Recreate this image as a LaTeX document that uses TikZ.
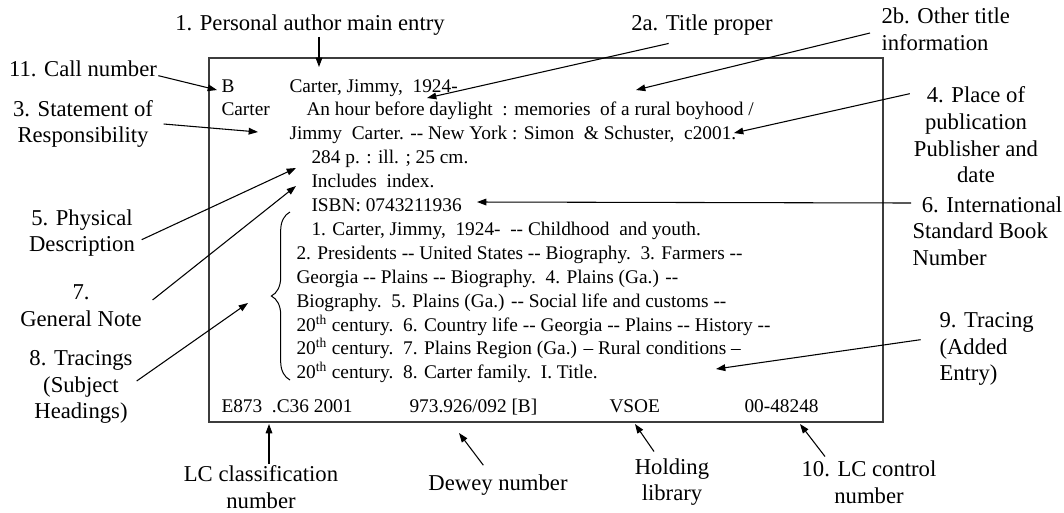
\documentclass[tikz,border=0pt]{standalone}
\usepackage{fontspec}
\setmainfont{Liberation Serif}
\usetikzlibrary{arrows.meta,decorations.pathreplacing}

\newcommand{\dhy}{-\kern0pt-}

\tikzset{every picture/.style={line width=0.75pt}}
\tikzset{
  cardtxt/.style={anchor=base west, inner sep=0.75pt, font=\fontsize{14.5}{17}\selectfont},
  lbl/.style={align=center, inner sep=0.75pt, font=\fontsize{17}{20}\selectfont},
  lblleft/.style={lbl, align=left, anchor=west},
  pointer/.style={-{Triangle[length=7pt,width=5pt]}, line width=0.8pt},
}

\begin{document}
\begin{tikzpicture}[x=0.75pt,y=0.75pt,yscale=-1,xscale=1]
\useasboundingbox (0,0) rectangle (1064,512);

%Shape: Rectangle (the card)
\draw  [color={rgb, 255:red, 60; green, 60; blue, 60 }, line width=1pt] (209,58) -- (883,58) -- (883,422) -- (209,422) -- cycle ;
%Shape: Brace
\draw  [decorate, decoration={brace, amplitude=14pt}] (290,380) -- (290,212) ;

% Text Node
\draw (220,92) node (cB) [cardtxt] {B};
% Text Node
\draw (288,92) node (cMain) [cardtxt] {Carter, Jimmy,\ \ 1924-};
% Text Node
\draw (220,115.9) node (cCutter) [cardtxt] {Carter};
% Text Node
\draw (305,115.9) node (cTitle) [cardtxt] {An hour before daylight\ \ : memories\ \ of a rural boyhood /};
% Text Node
\draw (288,139.8) node (cResp) [cardtxt] {Jimmy\ \ Carter. \dhy\ New York : Simon\ \ \& Schuster,\ \ c2001.};
% Text Node
\draw (310,163.7) node (cPhys) [cardtxt] {284 p. : ill. ; 25 cm.};
% Text Node
\draw (310,187.6) node (cNote) [cardtxt] {Includes\ \ index.};
% Text Node
\draw (310,211.5) node (cIsbn) [cardtxt] {ISBN: 0743211936};
% Text Node
\draw (310,235.4) node (cSub1) [cardtxt] {1. Carter, Jimmy,\ \ 1924-\ \ \dhy\ Childhood\ \ and youth.};
% Text Node
\draw (295,259.3) node (cSub2) [cardtxt] {2. Presidents \dhy\ United States \dhy\ Biography.\ \ 3. Farmers \dhy};
% Text Node
\draw (295,283.2) node (cSub3) [cardtxt] {Georgia \dhy\ Plains \dhy\ Biography.\ \ 4. Plains (Ga.) \dhy};
% Text Node
\draw (295,307.1) node (cSub4) [cardtxt] {Biography.\ \ 5. Plains (Ga.) \dhy\ Social life and customs \dhy};
% Text Node
\draw (295,331) node (cSub5) [cardtxt] {20\textsuperscript{th} century.\ \ 6. Country life \dhy\ Georgia \dhy\ Plains \dhy\ History \dhy};
% Text Node
\draw (295,354.9) node (cSub6) [cardtxt] {20\textsuperscript{th} century.\ \ 7. Plains Region (Ga.) -- Rural conditions --};
% Text Node
\draw (295,378.8) node (cSub7) [cardtxt] {20\textsuperscript{th} century.\ \ 8. Carter family.\ \ I. Title.};
% Text Node
\draw (220,412) node (cLcc) [cardtxt] {E873\ \ .C36 2001};
% Text Node
\draw (408,412) node (cDewey) [cardtxt] {973.926/092 [B]};
% Text Node
\draw (608,412) node (cHold) [cardtxt] {VSOE};
% Text Node
\draw (743,412) node (cCtrl) [cardtxt] {00-48248};

% Text Node
\draw (310,25) node (author) [lbl] {1. Personal author main entry};
% Text Node
\draw (83,69) node (callno) [lbl] {11. Call number};
% Text Node
\draw (83,124) node (stmt) [lbl] {3. Statement of\\Responsibility};
% Text Node
\draw (82,233) node (physdesc) [lbl] {5. Physical\\Description};
% Text Node
\draw (81,306) node (gennote) [lbl] {7.\\General Note};
% Text Node
\draw (81,387) node (tracings) [lbl] {8. Tracings\\(Subject\\Headings)};
% Text Node
\draw (702,25) node (titleprop) [lbl] {2a. Title proper};
% Text Node
\draw (880,29) node (othertitle) [lblleft] {2b. Other title\\information};
% Text Node
\draw (976,135) node (pubplace) [lbl] {4. Place of\\publication\\Publisher and\\date};
% Text Node
\draw (911,231) node (isbnlab) [lblleft] {\hspace*{7pt}6. International\\Standard Book\\Number};
% Text Node
\draw (938,349) node (tracing9) [lblleft] {9. Tracing\\(Added\\Entry)};
% Text Node
\draw (261,487) node (lcclass) [lbl] {LC classification\\number};
% Text Node
\draw (498,485) node (dewey) [lbl] {Dewey number};
% Text Node
\draw (672,482) node (holding) [lbl] {Holding\\library};
% Text Node
\draw (869,482) node (lccontrol) [lbl] {10. LC control\\number};

% arrow heads land here
\coordinate (pAuthor) at (319,67);
\coordinate (pCall) at (217,90);
\coordinate (pStmt) at (258,132);
\coordinate (pPhys) at (296,168);
\coordinate (pNote) at (296,186);
\coordinate (pTrac) at (248,303);
\coordinate (pTitle) at (427,98);
\coordinate (pOther) at (636,90);
\coordinate (pPlace) at (734,133);
\coordinate (pIsbn) at (477,202);
\coordinate (pAdded) at (716,369);
\coordinate (pLcc) at (269,424);
\coordinate (pDewey) at (459,433);
\coordinate (pHold) at (635,424);
\coordinate (pCtrl) at (800,424);

%Straight Lines (yshift runs downwards here, yscale=-1)
\draw [pointer] (author.south -| pAuthor) -- (pAuthor);
\draw [pointer] ([yshift=5pt]callno.east) -- (pCall);
\draw [pointer] ([xshift=7pt]stmt.east) -- (pStmt);
\draw [pointer] ([xshift=4pt,yshift=5pt]physdesc.east) -- (pPhys);
\draw [pointer] ([xshift=7pt,yshift=-4.5pt]gennote.east) -- (pNote);
\draw [pointer] ([xshift=2pt,yshift=-4.5pt]tracings.east) -- (pTrac);
\draw [pointer] ([xshift=-25pt,yshift=5pt]titleprop.south) -- (pTitle);
\draw [pointer] ([xshift=-7.5pt,yshift=3pt]othertitle.west) -- (pOther);
\draw [pointer] ([xshift=-2pt,yshift=-31pt]pubplace.west) -- (pPlace);
\draw [pointer] ([yshift=-21pt]isbnlab.west) -- (pIsbn);
\draw [pointer] ([xshift=-13pt,yshift=-7pt]tracing9.west) -- (pAdded);
\draw [pointer] (lcclass.north -| pLcc) -- (pLcc);
\draw [pointer] ([xshift=-11pt,yshift=-6pt]dewey.north) -- (pDewey);
\draw [pointer] ([xshift=-13.5pt,yshift=-4pt]holding.north) -- (pHold);
\draw [pointer] ([xshift=-33pt,yshift=-2pt]lccontrol.north) -- (pCtrl);

\end{tikzpicture}
\end{document}
